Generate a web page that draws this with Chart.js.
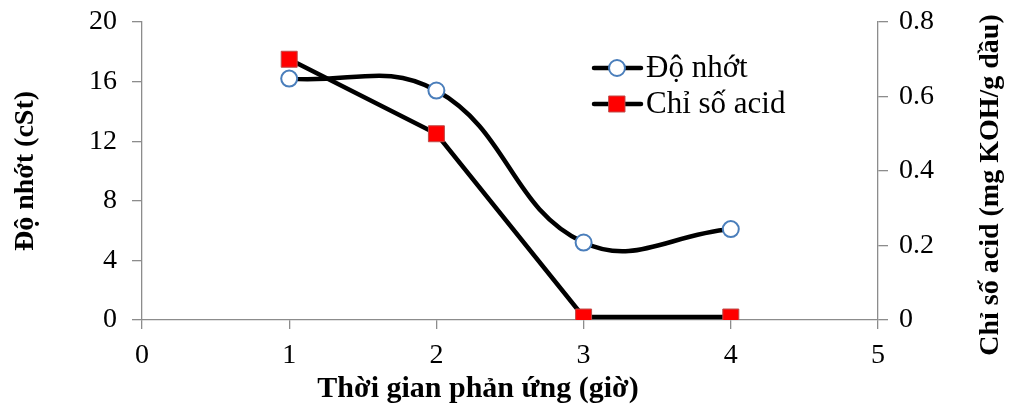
<!DOCTYPE html>
<html><head><meta charset="utf-8">
<script src="https://cdn.jsdelivr.net/npm/chart.js@4/dist/chart.umd.min.js"></script>
<style>html,body{margin:0;padding:0;background:#fff;}#wrap{width:1015px;height:409px;position:relative;}</style>
</head><body><div id="wrap"><canvas id="c" width="1015" height="409"></canvas></div>
<script>
const hours = [1, 2, 3, 4];
const viscosity = [16.2, 15.4, 5.2, 6.1];
const acidValue = [0.70, 0.50, 0.008, 0.008];
const xTicks = [0, 1, 2, 3, 4, 5];
const leftTicks = [0, 4, 8, 12, 16, 20];
const rightTicks = [0, 0.2, 0.4, 0.6, 0.8];
const seriesNames = ['Độ nhớt', 'Chỉ số acid'];
const xTitle = 'Thời gian phản ứng (giờ)';
const leftTitle = 'Độ nhớt (cSt)';
const rightTitle = 'Chỉ số acid (mg KOH/g dầu)';

const serif = "'Liberation Serif','Times New Roman',serif";
const axisGray = '#8c8c8c';

const titlesPlugin = {
  id: 'titles',
  afterDraw(chart) {
    const ctx = chart.ctx;
    ctx.save();
    ctx.fillStyle = '#000';
    ctx.textAlign = 'center';
    ctx.textBaseline = 'middle';
    ctx.font = "bold 30px " + serif;
    ctx.fillText(xTitle, 478, 389);
    ctx.font = "bold 28px " + serif;
    ctx.save();
    ctx.translate(26, 171);
    ctx.rotate(-Math.PI / 2);
    ctx.fillText(leftTitle, 0, 0);
    ctx.restore();
    ctx.save();
    ctx.translate(991, 185);
    ctx.rotate(-Math.PI / 2);
    ctx.fillText(rightTitle, 0, 0);
    ctx.restore();
    const items = [
      {y: 68, ds: chart.data.datasets[0]},
      {y: 104, ds: chart.data.datasets[1]}
    ];
    items.forEach((it, i) => {
      ctx.strokeStyle = '#000';
      ctx.lineWidth = 4.5;
      ctx.lineCap = 'round';
      ctx.beginPath();
      ctx.moveTo(594, it.y);
      ctx.lineTo(641, it.y);
      ctx.stroke();
      ctx.fillStyle = it.ds.pointBackgroundColor;
      ctx.strokeStyle = it.ds.pointBorderColor;
      ctx.lineWidth = it.ds.pointBorderWidth;
      ctx.beginPath();
      if (it.ds.pointStyle === 'circle') {
        ctx.arc(617, it.y, it.ds.pointRadius, 0, Math.PI * 2);
      } else {
        const s = it.ds.pointRadius * Math.SQRT1_2;
        ctx.rect(617 - s, it.y - s, 2 * s, 2 * s);
      }
      ctx.fill();
      ctx.stroke();
      ctx.fillStyle = '#000';
      ctx.font = "31px " + serif;
      ctx.textAlign = 'left';
      ctx.textBaseline = 'middle';
      ctx.fillText(seriesNames[i], 646, it.y + 1);
    });
    ctx.restore();
  }
};

function noPadY(s, w) { s.width = w; s.paddingTop = 0; s.paddingBottom = 0; }

new Chart(document.getElementById('c'), {
  type: 'line',
  data: {
    datasets: [
      {
        label: seriesNames[0],
        data: hours.map((h, i) => ({x: h, y: viscosity[i]})),
        yAxisID: 'yL',
        borderColor: '#000',
        borderWidth: 4.5,
        tension: 0.42,
        cubicInterpolationMode: 'default',
        pointStyle: 'circle',
        pointRadius: 8,
        pointBorderWidth: 2,
        pointBackgroundColor: '#ffffff',
        pointBorderColor: '#4a7ebb',
        fill: false,
        order: 2
      },
      {
        label: seriesNames[1],
        data: hours.map((h, i) => ({x: h, y: acidValue[i]})),
        yAxisID: 'yR',
        borderColor: '#000',
        borderWidth: 4.5,
        tension: 0,
        pointStyle: 'rect',
        pointRadius: 11.3,
        pointBorderWidth: 1,
        pointBackgroundColor: '#ff0000',
        pointBorderColor: '#be4b48',
        fill: false,
        order: 1
      }
    ]
  },
  options: {
    responsive: false,
    animation: false,
    events: [],
    layout: {padding: {top: 22, left: 0, right: 0, bottom: 0}},
    plugins: {legend: {display: false}, tooltip: {enabled: false}},
    scales: {
      x: {
        type: 'linear',
        min: xTicks[0], max: xTicks[xTicks.length - 1],
        afterBuildTicks(s) { s.ticks = xTicks.map(v => ({value: v})); },
        afterFit(s) { s.height = 89; s.paddingLeft = 0; s.paddingRight = 0; },
        border: {display: true, color: axisGray, width: 1.3},
        grid: {display: true, drawOnChartArea: false, drawTicks: true, tickLength: 9, color: axisGray, lineWidth: 1.3},
        ticks: {color: '#000', font: {family: serif, size: 28}, padding: 10}
      },
      yL: {
        type: 'linear', position: 'left',
        min: leftTicks[0], max: leftTicks[leftTicks.length - 1],
        afterBuildTicks(s) { s.ticks = leftTicks.map(v => ({value: v})); },
        afterFit(s) { noPadY(s, 142); },
        border: {display: true, color: axisGray, width: 1.3},
        grid: {display: true, drawOnChartArea: false, drawTicks: true, tickLength: 10, color: axisGray, lineWidth: 1.3},
        ticks: {color: '#000', font: {family: serif, size: 28}, padding: 15}
      },
      yR: {
        type: 'linear', position: 'right',
        min: rightTicks[0], max: rightTicks[rightTicks.length - 1],
        afterBuildTicks(s) { s.ticks = rightTicks.map(v => ({value: v})); },
        afterFit(s) { noPadY(s, 137); },
        border: {display: true, color: axisGray, width: 1.3},
        grid: {display: true, drawOnChartArea: false, drawTicks: true, tickLength: 10, color: axisGray, lineWidth: 1.3},
        ticks: {color: '#000', font: {family: serif, size: 28}, padding: 11,
          callback: v => String(Math.round(v * 10) / 10)}
      }
    }
  },
  plugins: [titlesPlugin]
});
</script></body></html>
